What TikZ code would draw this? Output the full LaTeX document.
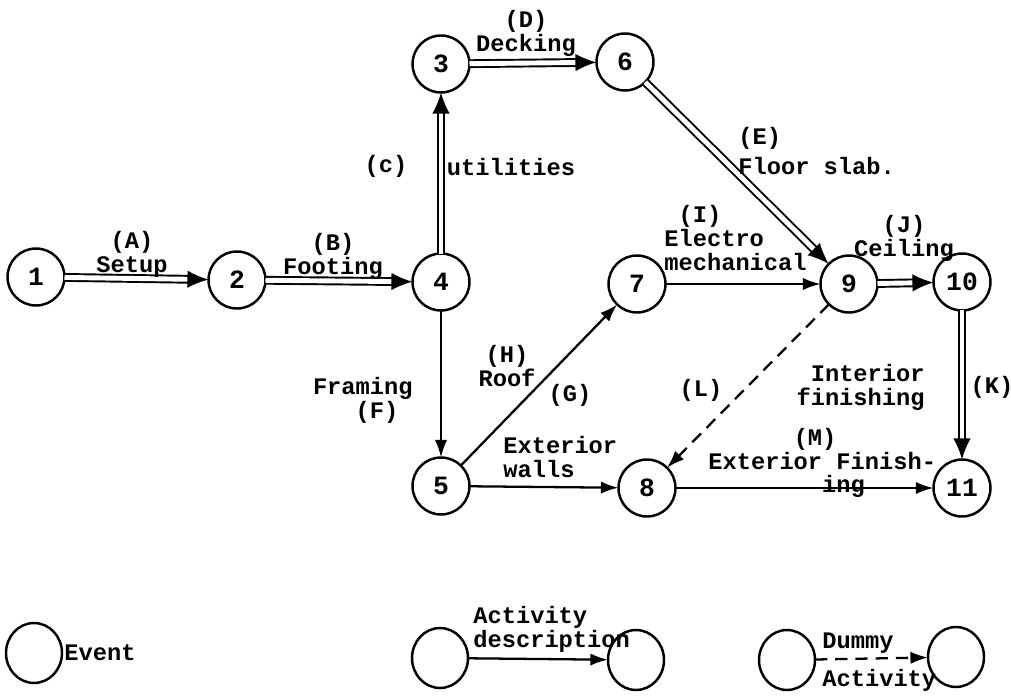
\documentclass[tikz,border=0pt]{standalone}
\usepackage{fontspec}
\newfontfamily\typer{Liberation Mono}
\usetikzlibrary{arrows.meta,shapes.geometric}
\tikzset{
  event/.style={
    circle,
    draw,
    line width=1.4pt,
    minimum size=1.14cm,
    inner sep=0pt,
    outer sep=0pt,
    font=\typer\bfseries\fontsize{15}{16}\selectfont
  },
  legendevent/.style={
    ellipse,
    draw,
    line width=1.4pt,
    minimum width=1.12cm,
    minimum height=1.2cm,
    inner sep=0pt,
    outer sep=0pt
  },
  act/.style={
    line width=1.3pt,
    -{Latex[length=10pt,width=7pt]}
  },
  crit/.style={
    line width=1.1pt,
    double,
    double distance=2.8pt,
    -{Latex[length=12pt,width=10pt]}
  },
  dummy/.style={
    act,
    dash pattern=on 7pt off 4.5pt
  },
  lbl/.style={
    inner sep=0pt,
    font=\typer\bfseries\fontsize{13.5}{13.7}\selectfont
  }
}

\begin{document}
\begin{tikzpicture}[x=0.02cm,y=-0.02cm]
  \useasboundingbox (0,0) rectangle (1011,696);

  % --- events ---
  \node[event] (e1)  at (36,277)  {1};
  \node[event] (e2)  at (237,280) {2};
  \node[event] (e3)  at (441,64)  {3};
  \node[event] (e4)  at (441,282) {4};
  \node[event] (e5)  at (441,486) {5};
  \node[event] (e6)  at (625,62)  {6};
  \node[event] (e7)  at (637,284) {7};
  \node[event] (e8)  at (647,488) {8};
  \node[event] (e9)  at (849,284) {9};
  \node[event] (e10) at (962,282) {10};
  \node[event] (e11) at (962,488) {11};

  % --- critical activities (double lines) ---
  \draw[crit] (e1) -- (e2);
  \draw[crit] (e2) -- (e4);
  \draw[crit] (e4) -- (e3);
  \draw[crit] (e3) -- (e6);
  \draw[crit] (e6) -- (e9);
  \draw[crit] (e9) -- (e10);
  \draw[crit] (e10) -- (e11);

  % --- other activities ---
  \draw[act] (e4) -- (e5);
  \draw[act] (e5) -- (e7);
  \draw[act] (e5) -- (e8);
  \draw[act] (e7) -- (e9);
  \draw[act] (e8) -- (e11);
  \draw[dummy] (e9) -- (e8);

  % --- activity labels ---
  \node[lbl,align=center] (tA) at (132,254) {(A)\\Setup};
  \node[lbl,align=center] (tB) at (333,256) {(B)\\Footing};
  \node[lbl] (tC) at (386,166) {(c)};
  \node[lbl] (tCu) at (511,167) {utilities};
  \node[lbl,align=center] (tD) at (526,33) {(D)\\Decking};
  \node[lbl,align=left,anchor=west] (tE) at (738,151) {(E)\\[3pt]Floor slab.};
  \node[lbl,align=right,anchor=east] (tF) at (413,400) {Framing\\(F)\phantom{.}};
  \node[lbl,align=center] (tH) at (507,366) {(H)\\Roof};
  \node[lbl] (tG) at (570,395) {(G)};
  \node[lbl,align=left,anchor=west] (tW) at (503,457) {Exterior\\walls};
  \node[lbl,align=left,anchor=west] (tI) at (664,238) {\phantom{.}(I)\\Electro\\mechanical};
  \node[lbl,align=center] (tJ) at (904,238) {(J)\\Ceiling};
  \node[lbl] (tL) at (701,390) {(L)};
  \node[lbl,align=right,anchor=east] (tK) at (925,387) {Interior\\finishing};
  \node[lbl] (tKk) at (992,387) {(K)};
  \node[lbl,align=left,anchor=west] (tM) at (708,463)
    {\phantom{......}(M)\\Exterior Finish-\\[-1pt]\phantom{........}ing};

  % --- legend ---
  \node[legendevent] (lg1) at (34,653) {};
  \node[lbl,anchor=west] (lg1t) at (64,653) {Event};

  \node[legendevent] (lg2) at (440,658) {};
  \node[legendevent] (lg3) at (636,660) {};
  \draw[act] (lg2) -- (lg3);
  \node[lbl,align=left,anchor=west] (lg2t) at (473,629) {Activity\\description};

  \node[legendevent] (lg4) at (787,660) {};
  \node[legendevent] (lg5) at (956,657) {};
  \draw[dummy] (lg4) -- (lg5);
  \node[lbl,anchor=west] (lg4t) at (822,643) {Dummy};
  \node[lbl,anchor=west] (lg4b) at (822,680) {Activity};
\end{tikzpicture}
\end{document}
